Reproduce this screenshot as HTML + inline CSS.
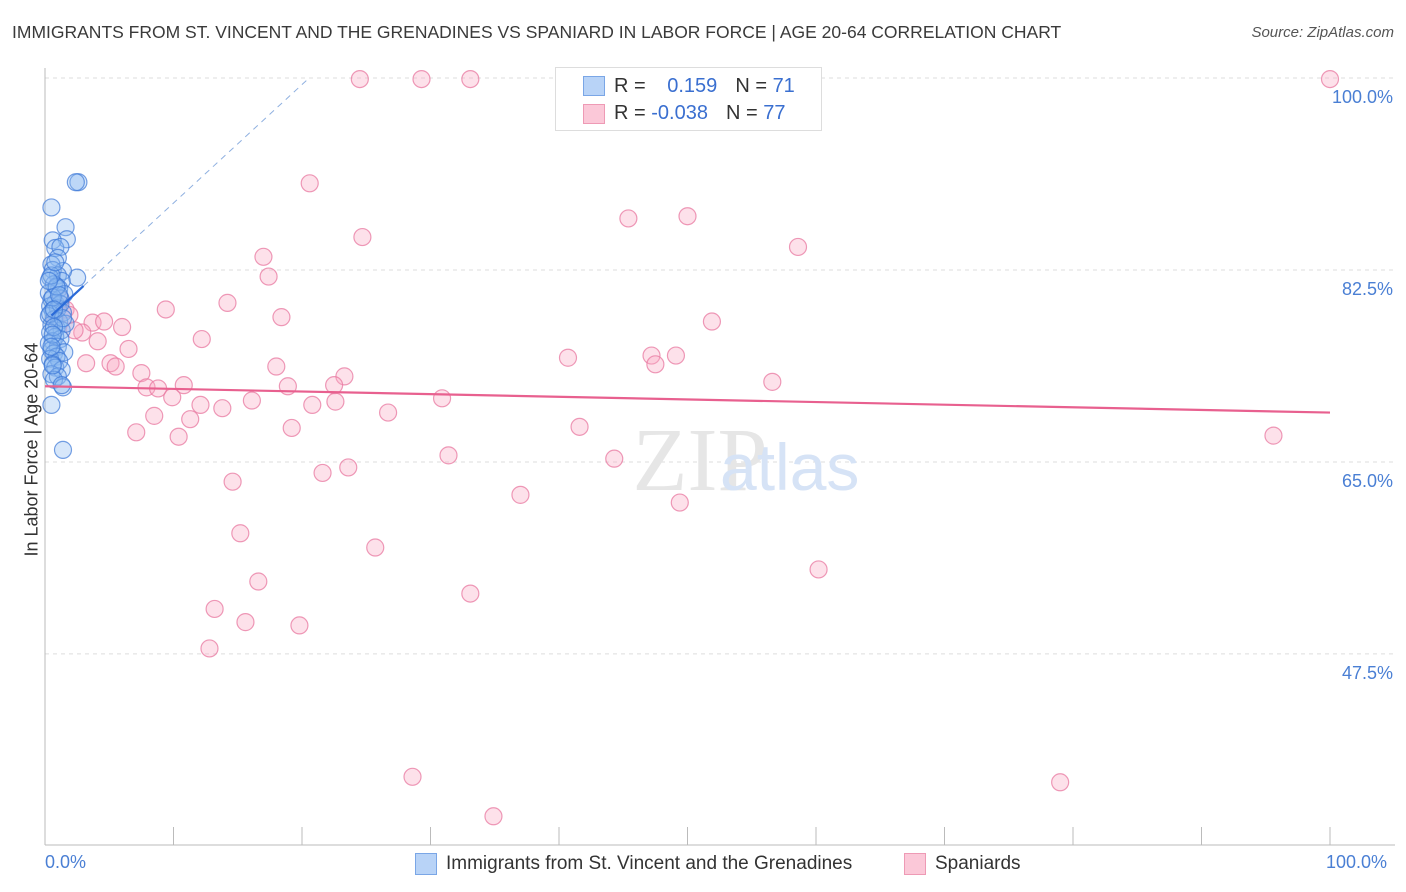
<!DOCTYPE html>
<html><head><meta charset="utf-8">
<style>
body{margin:0;background:#fff;font-family:"Liberation Sans",sans-serif;}
#wrap{position:relative;width:1406px;height:892px;overflow:hidden;}
.t{position:absolute;white-space:nowrap;}
</style></head>
<body>
<div id="wrap">
<div class="t" style="left:12px;top:22px;font-size:17.5px;color:#3a3a3a;">IMMIGRANTS FROM ST. VINCENT AND THE GRENADINES VS SPANIARD IN LABOR FORCE | AGE 20-64 CORRELATION CHART</div>
<div class="t" style="right:12px;top:24px;font-size:15px;color:#555;font-style:italic;">Source: ZipAtlas.com</div>
<svg id="svg" width="1406" height="892" style="position:absolute;left:0;top:0"></svg>
<div class="t" style="left:-68px;top:446px;font-size:18px;color:#333;transform:rotate(-90deg);transform-origin:center;width:200px;text-align:center;">In Labor Force | Age 20-64</div>
<div class="t" style="left:45px;top:852px;font-size:18px;color:#4a7fd4;">0.0%</div>
<div class="t" style="left:1326px;top:852px;font-size:18px;color:#4a7fd4;">100.0%</div>
<div style="position:absolute;left:555px;top:67px;width:265px;height:62px;border:1px solid #ddd;background:#fff;">
 <div style="position:absolute;left:27px;top:8px;width:20px;height:18px;background:#b8d3f7;border:1px solid #7aa6e6;"></div>
 <div style="position:absolute;left:27px;top:36px;width:20px;height:18px;background:#fbc8d8;border:1px solid #ee9ab5;"></div>
 <div class="t" style="left:58px;top:7px;font-size:20px;color:#333;">R = <span style="color:#3a6fd0;margin-left:16px">0.159</span><span style="margin-left:18px">N = </span><span style="color:#3a6fd0">71</span></div>
 <div class="t" style="left:58px;top:34px;font-size:20px;color:#333;">R = <span style="color:#3a6fd0;">-0.038</span><span style="margin-left:18px">N = </span><span style="color:#3a6fd0">77</span></div>
</div>
<div style="position:absolute;left:415px;top:853px;">
 <div style="position:absolute;left:0;top:0;width:20px;height:20px;background:#b8d3f7;border:1px solid #7aa6e6;"></div>
 <div class="t" style="left:31px;top:0;font-size:19px;color:#333;">Immigrants from St. Vincent and the Grenadines</div>
</div>
<div style="position:absolute;left:904px;top:853px;">
 <div style="position:absolute;left:0;top:0;width:20px;height:20px;background:#fbc8d8;border:1px solid #ee9ab5;"></div>
 <div class="t" style="left:31px;top:0;font-size:19px;color:#333;">Spaniards</div>
</div>
</div>
<script>
const yTicks=[100,82.5,65,47.5];
const yTickLabels=["100.0%","82.5%","65.0%","47.5%"];
const pinkX=[24.5,29.3,33.1,100,20.6,45.4,50.0,24.7,58.6,17.0,17.4,14.2,9.4,18.4,51.9,3.7,4.6,6.0,12.2,4.1,6.5,2.9,40.7,47.2,49.1,47.5,5.1,3.2,5.5,18.0,7.5,23.3,7.9,10.8,8.8,22.5,18.9,56.6,9.9,30.9,22.6,12.1,16.1,20.8,13.8,26.7,8.5,11.3,7.1,10.4,41.6,95.6,19.2,31.4,44.3,23.6,21.6,14.6,37.0,49.4,15.2,25.7,60.2,16.6,33.1,13.2,15.6,19.8,12.8,28.6,79.0,34.9,1.2,1.6,0.8,1.9,2.3];
const pinkY=[99.9,99.9,99.9,99.9,90.4,87.2,87.4,85.5,84.6,83.7,81.9,79.5,78.9,78.2,77.8,77.7,77.8,77.3,76.2,76.0,75.3,76.8,74.5,74.7,74.7,73.9,74.0,74.0,73.7,73.7,73.1,72.8,71.8,72.0,71.7,72.0,71.9,72.3,70.9,70.8,70.5,70.2,70.6,70.2,69.9,69.5,69.2,68.9,67.7,67.3,68.2,67.4,68.1,65.6,65.3,64.5,64.0,63.2,62.0,61.3,58.5,57.2,55.2,54.1,53.0,51.6,50.4,50.1,48.0,36.3,35.8,32.7,79.8,78.9,77.9,78.4,77.0];
const blueX=[2.6,2.4,0.5,1.6,1.7,0.6,0.8,1.2,1.0,2.5,0.5,1.4,0.6,1.0,1.3,0.4,0.7,1.1,0.3,0.9,1.5,0.5,0.8,1.2,0.4,0.6,1.0,1.4,0.3,0.7,1.1,0.5,0.9,1.3,1.6,0.4,0.8,0.6,1.2,0.3,1.0,0.5,0.7,1.5,0.9,0.4,1.1,0.6,0.8,1.3,0.5,1.0,0.7,0.4,1.2,0.6,0.9,1.4,0.5,0.8,0.3,1.1,0.7,0.6,0.5,1.4,0.6,1.3,0.5,1.4,0.7];
const blueY=[90.5,90.5,88.2,86.4,85.3,85.2,84.5,84.6,83.6,81.8,83.0,82.4,82.5,82.0,81.5,81.8,81.2,80.8,80.4,80.9,80.3,79.8,79.5,79.9,79.2,78.8,79.0,78.6,78.3,78.0,77.8,77.5,77.2,77.0,77.6,76.8,76.4,76.0,76.2,75.8,75.5,75.2,74.9,75.0,74.6,74.4,74.2,73.9,73.6,73.4,73.0,72.8,72.5,78.5,79.4,80.0,81.0,78.1,82.0,83.2,81.5,80.2,77.3,76.6,75.5,71.8,73.8,72.0,70.2,66.1,78.9];
const pinkTrend=[71.9,69.5];
const blueTrend=[77.8,1.08];
const X0=45,X1=1330,Y100=78,PPU=10.97,BOT=845;
const sx=v=>X0+(X1-X0)*v/100, sy=v=>Y100+(100-v)*PPU;
const svg=document.getElementById('svg');const NS='http://www.w3.org/2000/svg';
function mk(t,a){const e=document.createElementNS(NS,t);for(const k in a)e.setAttribute(k,a[k]);svg.appendChild(e);return e;}
yTicks.forEach((v,i)=>{
 const g=mk('line',{x1:X0,x2:1395,y1:sy(v),y2:sy(v),stroke:'#ddd','stroke-dasharray':'4,4'});
 
 
 const t=mk('text',{x:1393,y:sy(v)+25,'text-anchor':'end','font-size':18,fill:'#4a7fd4','font-family':'Liberation Sans, sans-serif'});
 t.textContent=yTickLabels[i];
 
 
});
const ax=mk('line',{x1:X0,x2:X0,y1:68,y2:BOT,stroke:'#bbb'});


const bx=mk('line',{x1:X0,x2:1395,y1:BOT,y2:BOT,stroke:'#bbb'});


for(let i=0;i<=10;i++){
 const tk=mk('line',{x1:sx(i*10),x2:sx(i*10),y1:BOT,y2:BOT-18,stroke:'#bbb'});
 
 
}
const wm=mk('text',{x:700,y:490,'text-anchor':'middle','font-size':90,fill:'#e6e6e6','font-family':'Liberation Serif, serif'});
wm.textContent='ZIP';


const wm2=mk('text',{x:720,y:490,'font-size':66,fill:'#d6e3f6','font-family':'Liberation Sans, sans-serif'});
wm2.textContent='atlas';


pinkX.forEach((x,i)=>{
 const c=mk('circle',{cx:sx(x),cy:sy(pinkY[i]),r:8.5,fill:'rgba(248,170,195,0.35)',stroke:'rgba(232,120,160,0.75)','stroke-width':1.2});
 
 
});
blueX.forEach((x,i)=>{
 const c=mk('circle',{cx:sx(x),cy:sy(blueY[i]),r:8.5,fill:'rgba(140,185,240,0.35)',stroke:'rgba(60,120,215,0.7)','stroke-width':1.2});
 
 
});
const pl=mk('line',{x1:sx(0),y1:sy(pinkTrend[0]),x2:sx(100),y2:sy(pinkTrend[1]),stroke:'#e8608f','stroke-width':2.2});


const xEnd=(100-blueTrend[0])/blueTrend[1];
const bd=mk('line',{x1:sx(3),y1:sy(blueTrend[0]+3*blueTrend[1]),x2:sx(xEnd),y2:sy(100),stroke:'#8fb0e0','stroke-width':1,'stroke-dasharray':'6,5'});


const bl=mk('line',{x1:sx(0.5),y1:sy(blueTrend[0]+0.5*blueTrend[1]),x2:sx(3),y2:sy(blueTrend[0]+3*blueTrend[1]),stroke:'#2a6ad8','stroke-width':2.2});


</script>
</body></html>
